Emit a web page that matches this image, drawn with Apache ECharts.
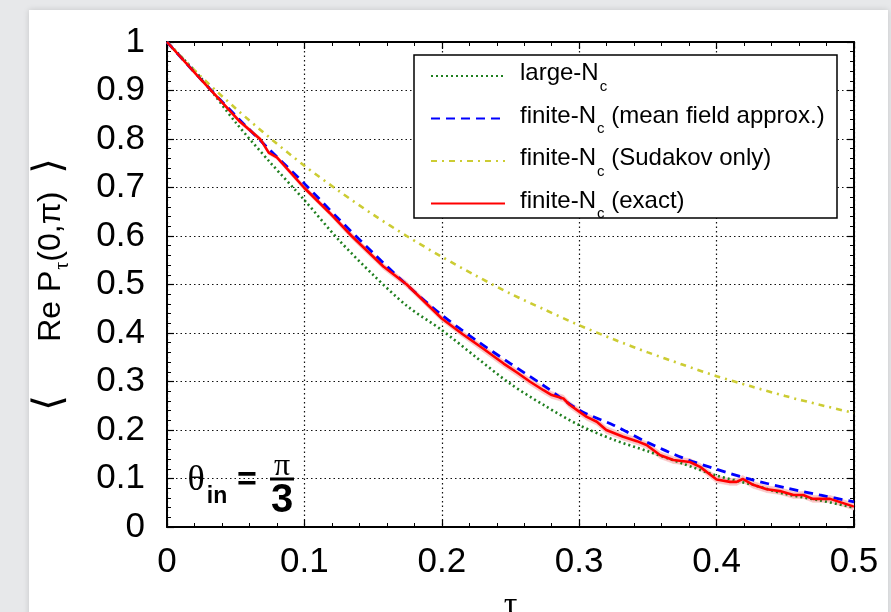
<!DOCTYPE html>
<html><head><meta charset="utf-8">
<script src="https://cdn.jsdelivr.net/npm/echarts@6/dist/echarts.min.js"></script>
<style>
html,body{margin:0;padding:0;width:891px;height:612px;overflow:hidden;background:#e7e8ea;}
#panel{position:absolute;left:29px;top:10px;width:859px;height:640px;background:#fff;box-shadow:0 0 6px rgba(0,0,0,0.15);}
#chart{position:absolute;left:0;top:0;width:891px;height:612px;}
</style></head>
<body><div id="panel"></div><div id="chart"></div>
<script>
// ---- data ----
const tauGrid = [0,0.025,0.05,0.075,0.1,0.125,0.15,0.175,0.2,0.225,0.25,0.275,0.3,0.325,0.35,0.375,0.4,0.425,0.45,0.475,0.5];
const largeNc   = [1,0.925,0.834,0.752,0.674,0.592,0.520,0.455,0.406,0.350,0.295,0.250,0.210,0.180,0.156,0.131,0.106,0.088,0.068,0.055,0.040];
const meanField = [1,0.922,0.848,0.777,0.708,0.635,0.565,0.498,0.437,0.385,0.337,0.290,0.241,0.210,0.174,0.143,0.119,0.098,0.081,0.066,0.052];
const sudakov   = [1,0.928,0.863,0.802,0.745,0.693,0.644,0.599,0.557,0.518,0.481,0.448,0.416,0.387,0.360,0.335,0.311,0.290,0.270,0.252,0.235];
const tauExact = [0,0.0216,0.0386,0.053,0.0677,0.0701,0.074,0.08,0.0997,0.1186,0.1344,0.1575,0.1745,0.2,0.215,0.23,0.245,0.255,0.264,0.274,0.28,0.2885,0.293,0.3,0.3055,0.3128,0.3197,0.332,0.342,0.349,0.359,0.3685,0.3806,0.388,0.4,0.4098,0.4146,0.419,0.4266,0.4365,0.446,0.456,0.463,0.47,0.4826,0.5];
const exact    = [1,0.932,0.880,0.836,0.800,0.790,0.772,0.762,0.700,0.647,0.600,0.537,0.500,0.430,0.398,0.368,0.337,0.318,0.300,0.282,0.272,0.265,0.252,0.238,0.227,0.217,0.200,0.186,0.177,0.169,0.148,0.138,0.134,0.124,0.098,0.093,0.093,0.099,0.087,0.078,0.074,0.066,0.066,0.058,0.058,0.042];
const exactErr = [0,0.002,0.003,0.004,0.004,0.004,0.004,0.004,0.005,0.005,0.006,0.006,0.006,0.006,0.006,0.007,0.007,0.007,0.007,0.007,0.007,0.007,0.007,0.007,0.007,0.007,0.007,0.007,0.007,0.007,0.007,0.007,0.007,0.007,0.007,0.007,0.007,0.007,0.007,0.007,0.007,0.007,0.007,0.007,0.007,0.007];
const xTickLabels = ['0','0.1','0.2','0.3','0.4','0.5'];
const yTickLabels = ['0','0.1','0.2','0.3','0.4','0.5','0.6','0.7','0.8','0.9','1'];
const seriesNames = ['large-N_c','finite-N_c (mean field approx.)','finite-N_c (Sudakov only)','finite-N_c (exact)'];

const pairs = (xs, ys) => xs.map((x, i) => [x, ys[i]]);
// band segments: [t_i, lo_i, hi_i, t_i+1, lo_i+1, hi_i+1]
const bandSegs = tauExact.slice(0, -1).map((t, i) => [
  t, exact[i] - exactErr[i], exact[i] + exactErr[i],
  tauExact[i + 1], exact[i + 1] - exactErr[i + 1], exact[i + 1] + exactErr[i + 1]
]);

const chart = echarts.init(document.getElementById('chart'), null, {renderer: 'canvas'});
const FONT = 'Liberation Sans';

const axisCommon = {
  type: 'value',
  axisLine: {show: true, onZero: false, lineStyle: {color: '#000', width: 2}},
  axisTick: {show: true, inside: true, length: 7, lineStyle: {color: '#000', width: 1.2}},
  minorTick: {show: true, splitNumber: 5, length: 4, lineStyle: {color: '#000', width: 1}},
  minorSplitLine: {show: false}
};
const gridDots = {show: true, lineStyle: {color: '#111', type: [1.5, 3], width: 1.2}};

function legendFmt(name) {
  const parts = name.split('_c');
  return '{m0|' + parts[0] + '}{sub|c}' + (parts[1] ? '{m|' + parts[1] + '}' : '');
}

chart.setOption({
  animation: false,
  backgroundColor: 'transparent',
  textStyle: {fontFamily: FONT},
  grid: {left: 167, top: 42, width: 687, height: 485, containLabel: false, outerBoundsMode: 'none'},
  xAxis: [
    Object.assign({}, axisCommon, {
      min: 0, max: 0.5, interval: 0.1, position: 'bottom',
      splitLine: gridDots,
      axisLabel: {show: true, fontSize: 35, color: '#000', margin: 18, fontFamily: FONT,
        formatter: (v, i) => xTickLabels[i]},
      name: 'τ', nameLocation: 'middle', nameGap: 62,
      nameTextStyle: {fontSize: 34, color: '#000', fontFamily: 'Liberation Serif'}
    }),
    Object.assign({}, axisCommon, {
      min: 0, max: 0.5, interval: 0.1, position: 'top',
      splitLine: {show: false}, axisLabel: {show: false}
    })
  ],
  yAxis: [
    Object.assign({}, axisCommon, {
      min: 0, max: 1, interval: 0.1, position: 'left',
      splitLine: gridDots,
      axisLabel: {show: true, fontSize: 35, color: '#000', margin: 22, fontFamily: FONT,
        formatter: (v, i) => yTickLabels[i]},
      name: '{b|⟨}{t|      Re P}{s|τ}{t|(0,π)  }{b|⟩}',
      nameLocation: 'middle', nameRotate: 90, nameGap: 90,
      nameTextStyle: {color: '#000', rich: {
        b: {fontSize: 40, fontFamily: 'DejaVu Sans', color: '#000', padding: [0, 0, 6, 0]},
        t: {fontSize: 32, fontFamily: FONT, color: '#000', padding: [0, 0, 6, 0]},
        s: {fontSize: 20, fontFamily: 'Liberation Serif', color: '#000', padding: [18, 0, 0, 1]}
      }}
    }),
    Object.assign({}, axisCommon, {
      min: 0, max: 1, interval: 0.1, position: 'right',
      splitLine: {show: false}, axisLabel: {show: false}
    })
  ],
  legend: {
    data: seriesNames, orient: 'vertical', left: 430, top: 61.5, padding: 0,
    itemWidth: 74, itemHeight: 1, itemGap: 10, selectedMode: false,
    itemStyle: {opacity: 0},
    formatter: legendFmt,
    textStyle: {color: '#000', fontSize: 24, fontFamily: FONT, rich: {
      m0: {fontSize: 24, fontFamily: FONT, color: '#000', padding: [0, 0, 5, 10]},
      m: {fontSize: 24, fontFamily: FONT, color: '#000', padding: [0, 0, 5, 0]},
      sub: {fontSize: 15, fontFamily: FONT, color: '#000', padding: [21, 0, 0, 1]}
    }},
    z: 5
  },
  graphic: [
    {type: 'rect', shape: {x: 414, y: 55, width: 423, height: 163}, style: {fill: '#fff', stroke: '#000', lineWidth: 1.5}, z: 3, silent: true},
    {type: 'text', x: 196, y: 481, style: {text: 'θ', font: '36px "Liberation Serif"', fill: '#000', textAlign: 'center', textVerticalAlign: 'middle'}, z: 5},
    {type: 'text', x: 217, y: 497, style: {text: 'in', font: 'bold 23px "Liberation Sans"', fill: '#000', textAlign: 'center', textVerticalAlign: 'middle'}, z: 5},
    {type: 'text', x: 247, y: 481, style: {text: '=', font: 'bold 34px "Liberation Sans"', fill: '#000', textAlign: 'center', textVerticalAlign: 'middle'}, z: 5},
    {type: 'text', x: 282, y: 467, style: {text: 'π', font: '32px "Liberation Serif"', fill: '#000', textAlign: 'center', textVerticalAlign: 'middle'}, z: 5},
    {type: 'line', shape: {x1: 270, y1: 479, x2: 294, y2: 479}, style: {stroke: '#000', lineWidth: 3}, z: 5},
    {type: 'text', x: 282, y: 501, style: {text: '3', font: 'bold 40px "Liberation Sans"', fill: '#000', textAlign: 'center', textVerticalAlign: 'middle'}, z: 5}
  ],
  series: [
    {name: 'band', type: 'custom', data: bandSegs, silent: true, clip: true,
      encode: {x: [0, 3], y: [1, 2, 4, 5]},
      renderItem: (params, api) => {
        const a = api.coord([api.value(0), api.value(1)]);
        const b = api.coord([api.value(3), api.value(4)]);
        const c = api.coord([api.value(3), api.value(5)]);
        const d = api.coord([api.value(0), api.value(2)]);
        return {type: 'polygon', shape: {points: [a, b, c, d]},
          style: {fill: '#fac6c6', stroke: '#fac6c6', lineWidth: 0.6}};
      }},
    {name: seriesNames[0], type: 'line', data: pairs(tauGrid, largeNc), symbol: 'none', smooth: 0.3,
      lineStyle: {color: '#1f7f1f', width: 2.6, type: [2, 3]}, itemStyle: {color: '#1f7f1f'}},
    {name: seriesNames[2], type: 'line', data: pairs(tauGrid, sudakov), symbol: 'none', smooth: 0.3,
      lineStyle: {color: '#cccc33', width: 2.6, type: [6, 5, 2, 5]}, itemStyle: {color: '#cccc33'}},
    {name: seriesNames[1], type: 'line', data: pairs(tauGrid, meanField), symbol: 'none', smooth: 0.3,
      lineStyle: {color: '#0000ff', width: 2.8, type: [9, 6]}, itemStyle: {color: '#0000ff'}},
    {name: seriesNames[3], type: 'line', data: pairs(tauExact, exact), symbol: 'none',
      lineStyle: {color: '#ff0000', width: 2.6, type: 'solid'}, itemStyle: {color: '#ff0000'}}
  ]
});
</script></body></html>
